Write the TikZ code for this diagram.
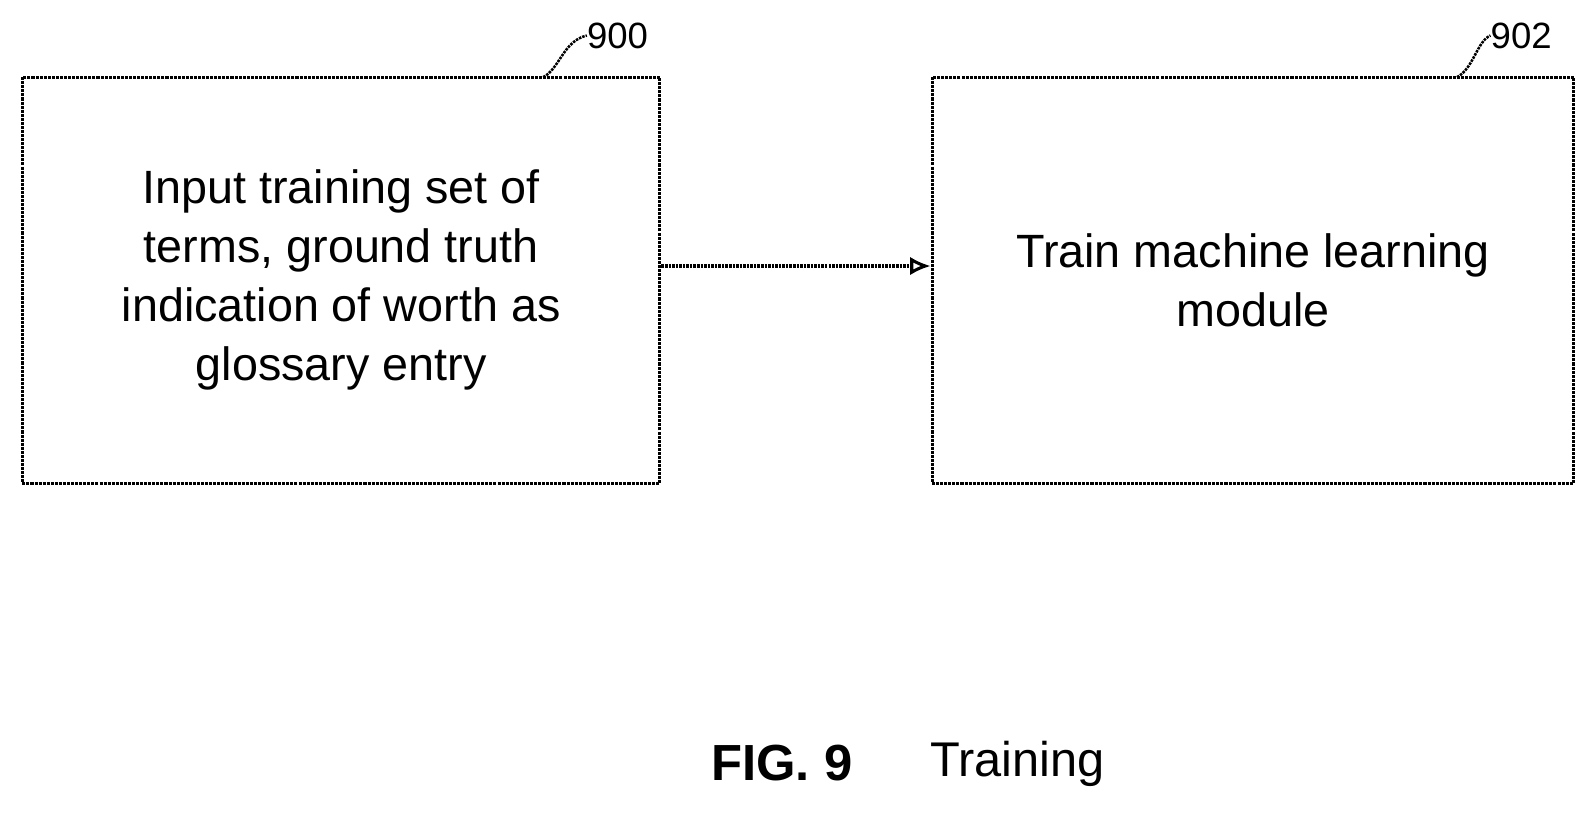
\documentclass[tikz,border=0pt]{standalone}
\usepackage{fontspec}
\setmainfont{Liberation Sans}
\usetikzlibrary{positioning,arrows.meta}
\tikzset{
  step box/.style={draw, line width=3pt, densely dotted, minimum width=628pt, minimum height=400pt, align=center, font=\fontsize{46}{58}\selectfont},
  ref label/.style={font=\fontsize{36}{40}\selectfont, anchor=west, inner sep=0pt},
  leader/.style={line width=2.5pt, densely dotted}
}
\begin{document}
\begin{tikzpicture}[x=1pt,y=-1pt]
  \useasboundingbox (0,0) rectangle (1568,808);

  % boxes
  \node[step box] (input) at (336,276) {Input training set of\\terms, ground truth\\indication of worth as\\glossary entry};
  \node[step box, minimum width=632pt] (train) at (1234,276) {Train machine learning\\module};

  % reference numerals
  \node[ref label] (n900) at (578,35) {900};
  \node[ref label] (n902) at (1468,35) {902};
  \draw[leader] (535,76) .. controls (551,68) and (555,40) .. (n900.west);
  \draw[leader] (1435,76) .. controls (1451,68) and (1455,40) .. (n902.west);

  % connector
  \draw[leader, line width=3pt, -{Latex[length=20pt,width=18pt,open]}] (input.east |- 0,262) -- (train.west |- 0,262);

  % caption
  \node[font=\fontsize{50}{54}\selectfont\bfseries] (fig) at (770,752) {FIG. 9};
  \node[font=\fontsize{48}{54}\selectfont, right=70pt of fig] (title) {Training};
\end{tikzpicture}
\end{document}
